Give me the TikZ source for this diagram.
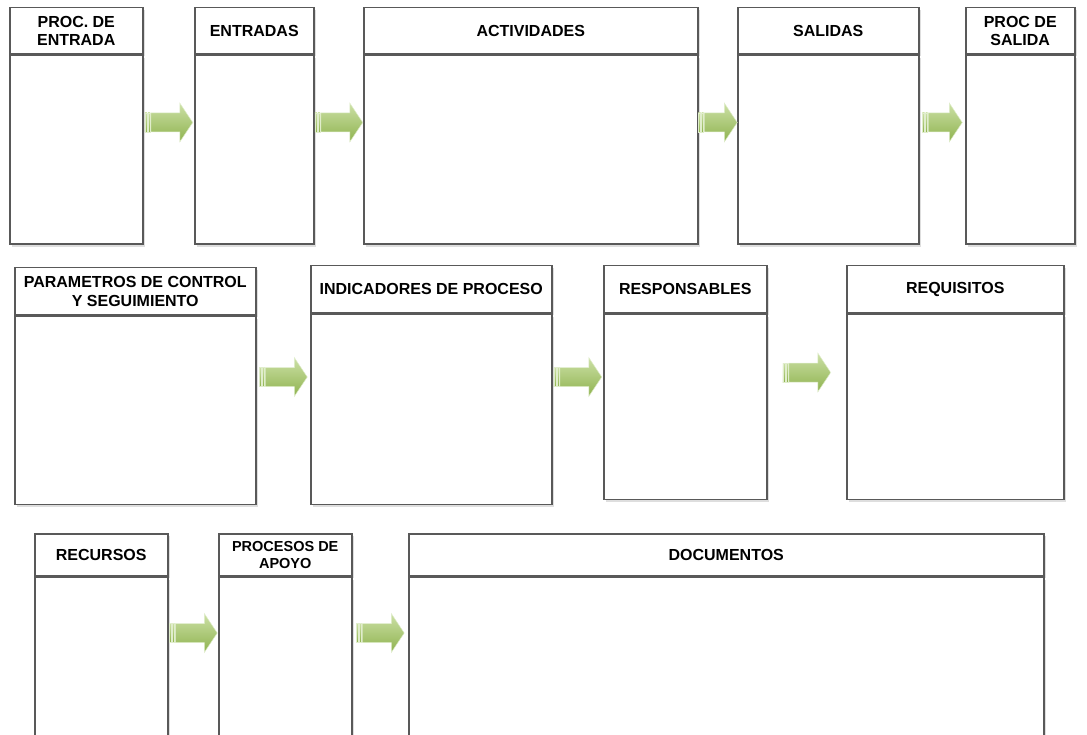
\documentclass[tikz,border=0pt]{standalone}
\usepackage{fontspec}
\setmainfont{Liberation Sans}
\usetikzlibrary{positioning,calc,shadows}

\newlength{\du}
\setlength{\du}{1pt}

\definecolor{boxlinecolor}{rgb}{0.350000, 0.350000, 0.350000}
\definecolor{shadowcolor}{rgb}{0.870000, 0.870000, 0.870000}
\definecolor{arrowlight}{rgb}{0.800000, 0.880000, 0.650000}
\definecolor{arrowdark}{rgb}{0.560000, 0.700000, 0.310000}
\definecolor{arrowedge}{rgb}{0.880000, 0.930000, 0.800000}

\tikzset{
  cajabase/.style={draw=boxlinecolor, line width=1.5\du, fill=white, inner sep=0pt,
    drop shadow={shadow xshift=2.5\du, shadow yshift=-2.5\du, fill=shadowcolor, opacity=1}},
  cabecera/.style={cajabase, anchor=north west, align=center,
    font=\bfseries\fontsize{16}{18.5}\selectfont},
  cuerpo/.style={cajabase},
  flecha/.style={top color=arrowlight, bottom color=arrowdark, draw=arrowedge, line width=0.5\du},
}

% flecha verde entre dos cajas, a la altura #4 (#1 = media longitud)
\newcommand{\flechaverde}[4][24]{%
  \coordinate (nivel) at (0,#4);
  \path (#2.east |- nivel) coordinate (izq) (#3.west |- nivel) coordinate (der);
  \coordinate (centro) at ($(izq)!0.5!(der)$);
  \shade[flecha] ($(centro)+(-#1+6,-9.5)$) -- ($(centro)+(#1-13,-9.5)$) -- ($(centro)+(#1-13,-19.5)$)
    -- ($(centro)+(#1,0)$) -- ($(centro)+(#1-13,19.5)$) -- ($(centro)+(#1-13,9.5)$)
    -- ($(centro)+(-#1+6,9.5)$) -- cycle;
  \shade[flecha] ($(centro)+(-#1,-9.5)$) rectangle ($(centro)+(-#1+2.3,9.5)$);
  \shade[flecha] ($(centro)+(-#1+3.3,-9.5)$) rectangle ($(centro)+(-#1+5.3,9.5)$);
}

\begin{document}
\begin{tikzpicture}[x=\du,y=-\du]
\useasboundingbox (0,0) rectangle (1087,735);

% primera fila
\node[cabecera, minimum width=133\du, minimum height=46\du] (hprocentrada) at (9,7) {PROC. DE\\ENTRADA};
\node[cuerpo, minimum width=133\du, minimum height=189\du, below=0pt of hprocentrada] (bprocentrada) {};
\node[cabecera, minimum width=119\du, minimum height=46\du] (hentradas) at (194,7) {ENTRADAS};
\node[cuerpo, minimum width=119\du, minimum height=189\du, below=0pt of hentradas] (bentradas) {};
\node[cabecera, minimum width=334\du, minimum height=46\du] (hactividades) at (363,7) {ACTIVIDADES};
\node[cuerpo, minimum width=334\du, minimum height=189\du, below=0pt of hactividades] (bactividades) {};
\node[cabecera, minimum width=181\du, minimum height=46\du] (hsalidas) at (737,7) {SALIDAS};
\node[cuerpo, minimum width=181\du, minimum height=189\du, below=0pt of hsalidas] (bsalidas) {};
\node[cabecera, minimum width=109\du, minimum height=46\du] (hprocsalida) at (965,7) {PROC DE\\SALIDA};
\node[cuerpo, minimum width=109\du, minimum height=189\du, below=0pt of hprocsalida] (bprocsalida) {};

\flechaverde{bprocentrada}{bentradas}{122.5}
\flechaverde{bentradas}{bactividades}{122.5}
\flechaverde[19.5]{bactividades}{bsalidas}{122.5}
\flechaverde[20]{bsalidas}{bprocsalida}{122.5}

% segunda fila
\node[cabecera, minimum width=241\du, minimum height=47\du] (hparametros) at (14,267) {PARAMETROS DE CONTROL\\Y SEGUIMIENTO};
\node[cuerpo, minimum width=241\du, minimum height=188\du, below=0pt of hparametros] (bparametros) {};
\node[cabecera, minimum width=241\du, minimum height=47\du] (hindicadores) at (310,265) {INDICADORES DE PROCESO};
\node[cuerpo, minimum width=241\du, minimum height=190\du, below=0pt of hindicadores] (bindicadores) {};
\node[cabecera, minimum width=163\du, minimum height=47\du] (hresponsables) at (603,265) {RESPONSABLES};
\node[cuerpo, minimum width=163\du, minimum height=185\du, below=0pt of hresponsables] (bresponsables) {};
\node[cabecera, minimum width=217\du, minimum height=47\du] (hrequisitos) at (846,265) {REQUISITOS};
\node[cuerpo, minimum width=217\du, minimum height=185\du, below=0pt of hrequisitos] (brequisitos) {};

\flechaverde{bparametros}{bindicadores}{377}
\flechaverde{bindicadores}{bresponsables}{377}
\flechaverde{bresponsables}{brequisitos}{372.5}

% tercera fila
\node[cabecera, minimum width=133\du, minimum height=42\du] (hrecursos) at (34,533) {RECURSOS};
\node[cuerpo, minimum width=133\du, minimum height=180\du, below=0pt of hrecursos] (brecursos) {};
\node[cabecera, minimum width=133\du, minimum height=42\du, font=\bfseries\fontsize{14.5}{17}\selectfont] (hapoyo) at (218,533) {PROCESOS DE\\APOYO};
\node[cuerpo, minimum width=133\du, minimum height=180\du, below=0pt of hapoyo] (bapoyo) {};
\node[cabecera, minimum width=635\du, minimum height=42\du] (hdocumentos) at (408,533) {DOCUMENTOS};
\node[cuerpo, minimum width=635\du, minimum height=180\du, below=0pt of hdocumentos] (bdocumentos) {};

\flechaverde{brecursos}{bapoyo}{633}
\flechaverde{bapoyo}{bdocumentos}{633}
\end{tikzpicture}
\end{document}
